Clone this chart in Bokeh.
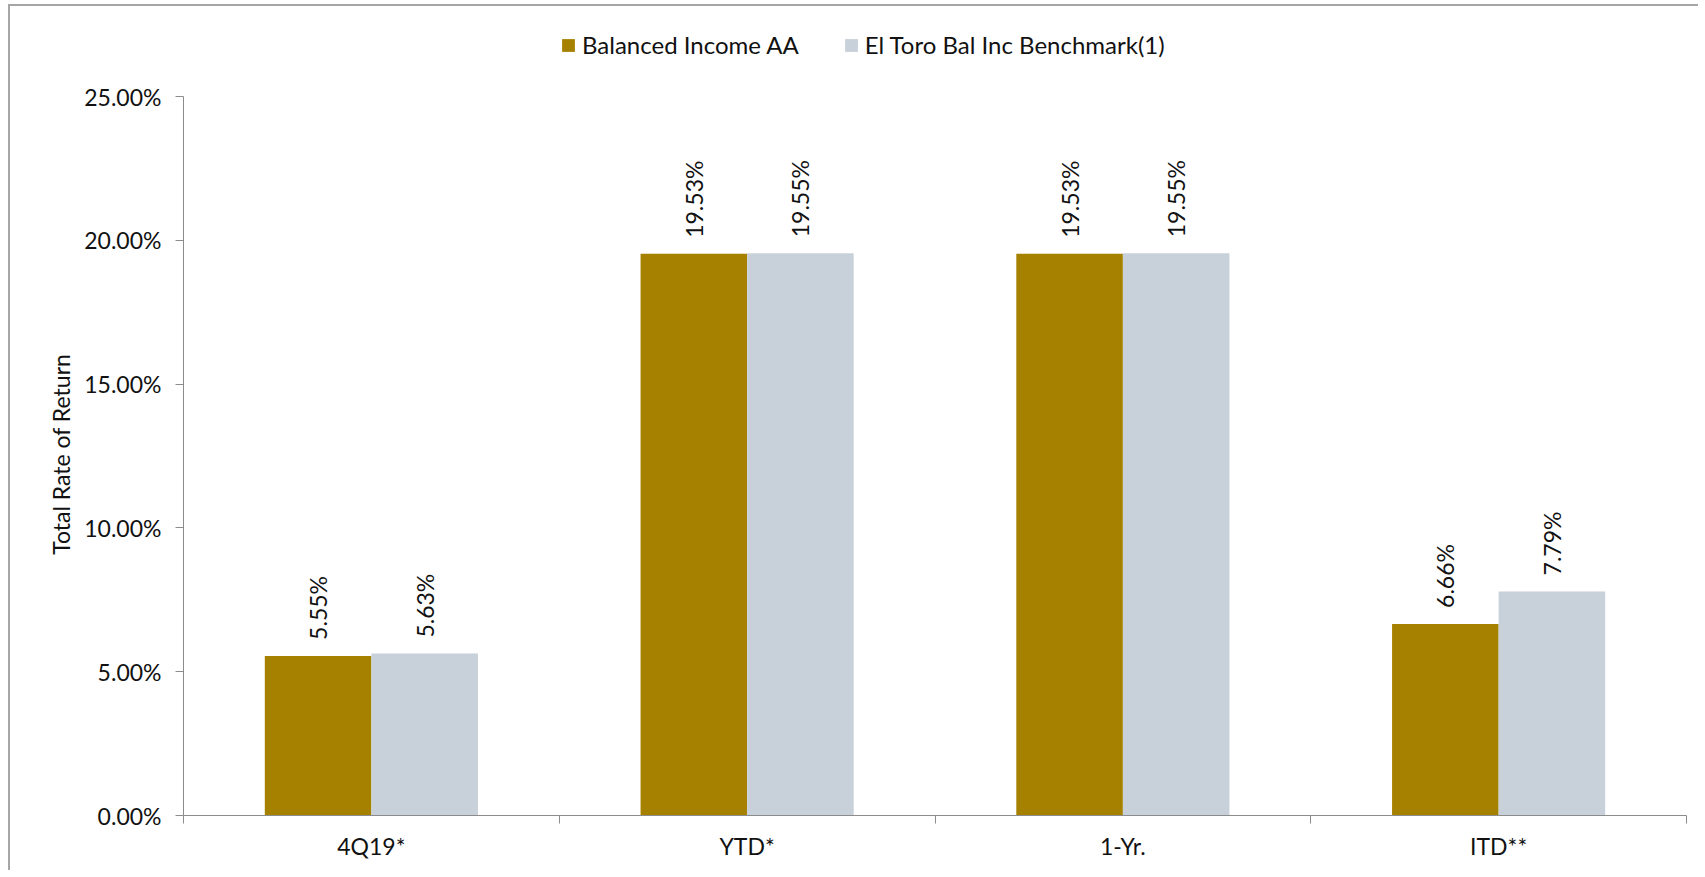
from bokeh.plotting import figure
from bokeh.models import (ColumnDataSource, FixedTicker, NumeralTickFormatter,
                          Legend, LegendItem, Range1d)
from bokeh.transform import dodge
from bokeh.core.properties import value
from bokeh.embed import file_html
from bokeh.resources import INLINE

# ---- data ----
categories = ["4Q19*", "YTD*", "1-Yr.", "ITD**"]
balanced_income = [5.55, 19.53, 19.53, 6.66]
benchmark = [5.63, 19.55, 19.55, 7.79]
series_names = ["Balanced Income AA", "El Toro Bal Inc Benchmark(1)"]
y_tick_values = [0, 5, 10, 15, 20, 25]
y_axis_title = "Total Rate of Return"

GOLD = "#A68100"
GRAY = "#C8D0DA"
AXIS = "#8C8C8C"
TXT = "#111111"
FONT = "Lato"
FS = "23px"

Y_MAX = 0.25
PLOT_PX = 719          # height of the 0..25% axis in pixels
TOP_PAD_PX = 80        # room above the axis (used by the legend)

centers = [i + 0.5 for i in range(len(categories))]
src = ColumnDataSource(dict(
    x=centers,
    cat=categories,
    a=[v / 100 for v in balanced_income],
    b=[v / 100 for v in benchmark],
    a_lbl=[f"{v:.2f}%" for v in balanced_income],
    b_lbl=[f"{v:.2f}%" for v in benchmark],
))

p = figure(width=1690, height=866,
           x_range=Range1d(0, len(categories)),
           y_range=Range1d(0, Y_MAX * (1 + TOP_PAD_PX / PLOT_PX)),
           output_backend="svg", toolbar_location=None,
           min_border_left=173, min_border_top=90 - TOP_PAD_PX,
           min_border_right=14, min_border_bottom=57)
p.styles = {"border-left": "2px solid #A6A6A6", "border-top": "2px solid #A6A6A6",
            "margin-left": "8px", "margin-top": "4px"}
p.outline_line_color = None
p.background_fill_color = "white"
p.border_fill_color = "white"
p.xgrid.visible = False
p.ygrid.visible = False

bw = 0.2836
ra = p.vbar(x=dodge("x", -bw / 2), top="a", width=bw, source=src,
            fill_color=GOLD, line_color=None)
rb = p.vbar(x=dodge("x", bw / 2), top="b", width=bw, source=src,
            fill_color=GRAY, line_color=None)

for col, lbl, off in (("a", "a_lbl", -bw / 2), ("b", "b_lbl", bw / 2)):
    p.text(x=dodge("x", off), y=col, text=lbl, source=src, angle=1.5707963,
           text_align="left", text_baseline="middle", y_offset=-16,
           text_font=value(FONT), text_font_size=FS, text_color=TXT)

# y axis (line limited to 0..25%, frame extends higher to host the legend)
ya = p.yaxis[0]
ya.bounds = (0, Y_MAX)
ya.ticker = FixedTicker(ticks=[v / 100 for v in y_tick_values], minor_ticks=[])
ya.formatter = NumeralTickFormatter(format="0.00%")
ya.axis_line_color = AXIS
ya.major_tick_line_color = AXIS
ya.major_tick_out = 8
ya.major_tick_in = 0
ya.minor_tick_line_color = None
ya.major_label_standoff = 14
ya.major_label_text_font = FONT
ya.major_label_text_font_size = FS
ya.major_label_text_color = TXT
# trailing no-break spaces re-centre the title on the 0..25% span
ya.axis_label = y_axis_title + "\u00a0" * 13
ya.axis_label_text_font = FONT
ya.axis_label_text_font_size = FS
ya.axis_label_text_font_style = "normal"
ya.axis_label_text_color = TXT
ya.axis_label_standoff = 6

# x axis
xa = p.xaxis[0]
xa.ticker = FixedTicker(ticks=centers, minor_ticks=list(range(len(categories) + 1)))
xa.major_label_overrides = {c: n for c, n in zip(centers, categories)}
xa.axis_line_color = AXIS
xa.major_tick_line_color = None
xa.major_tick_in = 0
xa.major_tick_out = 0
xa.minor_tick_line_color = AXIS
xa.minor_tick_in = 0
xa.minor_tick_out = 8
xa.major_label_standoff = 8
xa.major_label_text_font = FONT
xa.major_label_text_font_size = FS
xa.major_label_text_color = TXT

legend = Legend(items=[LegendItem(label=series_names[0], renderers=[ra]),
                       LegendItem(label=series_names[1], renderers=[rb])],
                location=(377, 756), orientation="horizontal",
                padding=0, margin=0, spacing=44,
                glyph_width=16, glyph_height=16, label_standoff=6,
                label_text_font=FONT, label_text_font_size="24px",
                label_text_color=TXT,
                border_line_color=None, background_fill_alpha=0)
p.add_layout(legend, "center")

open("out.html", "w").write(file_html(p, INLINE))
